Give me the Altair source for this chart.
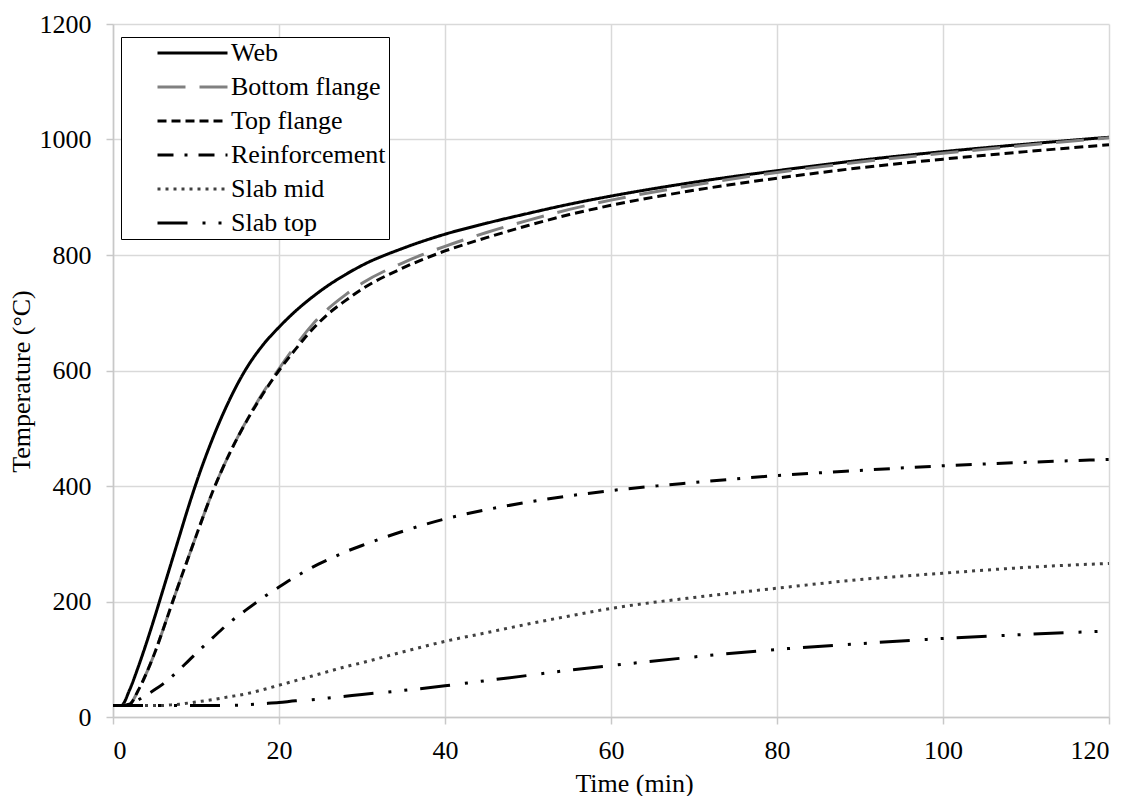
import altair as alt
import pandas as pd

# Time axis (minutes) shared by every series
time_min = [0, 1, 2, 3, 4, 5, 6, 7, 8, 9, 10, 12, 14, 16, 18, 20, 22, 24, 26, 28, 30,
            35, 40, 45, 50, 55, 60, 70, 80, 90, 100, 110, 120]

series_names = ["Web", "Bottom flange", "Top flange", "Reinforcement", "Slab mid", "Slab top"]

# Temperatures (°C) at each time step
web = [20, 20, 47, 85, 127, 172, 219, 266, 313, 360, 404, 482, 548, 602, 643, 675, 703, 727, 748, 766, 782,
       812, 836, 855, 872, 888, 902, 926, 946, 964, 979, 992, 1004]
bottom_flange = [20, 20, 22, 45, 75, 110, 150, 192, 233, 273, 313, 390, 455, 511, 560, 603, 643, 679, 708, 731, 751,
                 787, 815, 839, 860, 879, 895, 921, 943, 961, 976, 990, 1003]
top_flange = [20, 20, 22, 45, 75, 110, 150, 192, 233, 273, 313, 390, 455, 510, 558, 600, 637, 671, 699, 721, 741,
              778, 807, 830, 851, 870, 886, 912, 933, 951, 966, 979, 991]
reinforcement = [20, 20, 21, 29, 38, 47, 57, 69, 82, 96, 110, 137, 163, 185, 206, 225, 243, 259, 273, 286, 297,
                 322, 343, 359, 372, 383, 392, 406, 418, 427, 435, 441, 446]
slab_mid = [20, 20, 20, 20, 20, 20, 20, 21, 22, 24, 26, 30, 35, 40, 47, 55, 63, 71, 79, 87, 94,
            113, 131, 146, 161, 175, 188, 207, 223, 238, 249, 259, 266]
slab_top = [20, 20, 20, 20, 20, 20, 20, 20, 20, 20, 20, 20, 20, 21, 23, 25, 28, 30, 33, 36, 39,
            46, 54, 63, 72, 81, 89, 104, 117, 127, 136, 143, 149]

x_ticks = [0, 20, 40, 60, 80, 100, 120]
y_ticks = [0, 200, 400, 600, 800, 1000, 1200]

line_colors = ["#000000", "#808080", "#000000", "#000000", "#404040", "#000000"]
line_dashes = [[1, 0], [28, 14], [9, 5], [16, 11, 3, 11], [3, 5], [30, 15, 3, 13, 3, 13]]

rows = []
for name, values in zip(series_names, [web, bottom_flange, top_flange, reinforcement, slab_mid, slab_top]):
    for t, v in zip(time_min, values):
        rows.append({"Time": t, "Temperature": v, "Series": name})
df = pd.DataFrame(rows)

FONT = "Liberation Serif, Times New Roman, DejaVu Serif, serif"

legend = alt.Legend(
    title=None,
    orient="none",
    legendX=8,
    legendY=13,
    symbolType="stroke",
    symbolSize=4900,
    symbolStrokeWidth=3,
    clipHeight=26,
    rowPadding=8,
    symbolOffset=32,
    labelOffset=2,
    labelFont=FONT,
    labelFontSize=26,
    labelColor="#000000",
    labelLimit=400,
    padding=3,
    strokeColor="#000000",
    fillColor="#ffffff",
)

chart = alt.Chart(df).mark_line(strokeWidth=3, interpolate="monotone").encode(
    x=alt.X(
        "Time:Q",
        scale=alt.Scale(domain=[0, 120], nice=False),
        axis=alt.Axis(values=x_ticks, format="d", title="Time (min)", titleX=521, titleY=74,
                      titleAlign="center", titleBaseline="alphabetic",
                      labelPadding=13),
    ),
    y=alt.Y(
        "Temperature:Q",
        scale=alt.Scale(domain=[0, 1200], nice=False),
        axis=alt.Axis(values=y_ticks, format="d", title="Temperature (°C)", titleX=-84, titleY=357,
                      titleAngle=270, titleAlign="center", titleBaseline="alphabetic",
                      labelPadding=15),
    ),
    color=alt.Color("Series:N", scale=alt.Scale(domain=series_names, range=line_colors), legend=legend),
    strokeDash=alt.StrokeDash("Series:N", scale=alt.Scale(domain=series_names, range=line_dashes), legend=legend),
).properties(
    width=996,
    height=693,
    autosize=alt.AutoSizeParams(type="none"),
    padding={"left": 113, "top": 24, "right": 26, "bottom": 79},
).configure_view(
    stroke="transparent",
).configure_axis(
    labelFont=FONT,
    labelFontSize=26,
    labelColor="#000000",
    titleFont=FONT,
    titleFontSize=26,
    titleFontWeight="normal",
    titleColor="#000000",
    gridColor="#d9d9d9",
    gridWidth=1.5,
    domainColor="#c8c8c8",
    domainWidth=1.5,
    tickColor="#c8c8c8",
    tickWidth=1.5,
    tickSize=7,
)

chart.save("out.html", embed_options={"renderer": "svg", "actions": False})
